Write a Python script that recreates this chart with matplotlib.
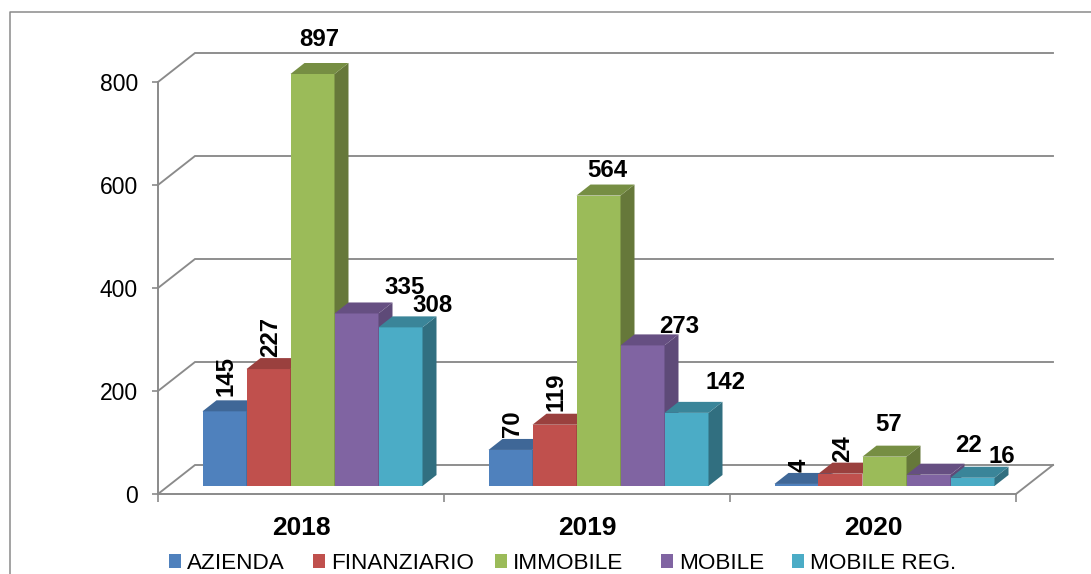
import matplotlib
matplotlib.use("Agg")
import matplotlib.pyplot as plt
from matplotlib.lines import Line2D
from matplotlib.patches import Polygon

plt.rcParams['font.family'] = ['Liberation Sans', 'DejaVu Sans']

# Datos
anios = ['2018', '2019', '2020']
series = ['AZIENDA', 'FINANZIARIO', 'IMMOBILE', 'MOBILE', 'MOBILE REG.']
azienda = [145, 70, 4]
finanziario = [227, 119, 24]
immobile = [897, 564, 57]
mobile = [335, 273, 22]
mobile_reg = [308, 142, 16]
valori = [azienda, finanziario, immobile, mobile, mobile_reg]
y_ticks = [0, 200, 400, 600, 800]

# Colores: frente, lado, arriba
frente = ['#4F81BD', '#C0504D', '#9BBB59', '#8064A2', '#4BACC6']
lado = ['#3A5F8B', '#8E3B39', '#66783A', '#5E4A78', '#316F80']
arriba = ['#3F6797', '#9A403E', '#768E43', '#664F82', '#3A8599']
GRIS = '#8A8A8A'

W, H = 1091, 574
fig = plt.figure(figsize=(W / 100, H / 100), dpi=100)
ax = fig.add_axes([158 / W, 1 - 494 / H, 858 / W, 412 / H])
ax.set_xlim(-0.5, 2.5)
ax.set_ylim(0, 800)

# Conversion pixeles -> unidades de datos
px_x = 3 / 858
px_y = 800 / 412

#===========================================================================================
# Pared del fondo, piso y ejes
#===========================================================================================
fondo_x = 37 * px_x
fondo_y = 29 * px_y
for v in y_ticks:
    ax.plot([-0.5, -0.5 + fondo_x, 2.5 + fondo_x], [v, v + fondo_y, v + fondo_y],
            color=GRIS, lw=1.35, clip_on=False, zorder=1, solid_joinstyle='miter')
ax.plot([2.5, 2.5 + fondo_x], [0, fondo_y], color=GRIS, lw=1.35, clip_on=False, zorder=1)

for s in ['top', 'right']:
    ax.spines[s].set_visible(False)
for s in ['left', 'bottom']:
    ax.spines[s].set_color(GRIS)
    ax.spines[s].set_linewidth(1.4)

ax.set_yticks(y_ticks)
ax.set_xticks(range(3))
ax.set_xticklabels(anios, fontsize=19, fontweight='bold')
ax.set_xticks([-0.5, 0.5, 1.5, 2.5], minor=True)
ax.tick_params(axis='y', length=4.5, width=1.2, color=GRIS, labelsize=16.5, pad=10)
ax.tick_params(axis='x', which='major', length=0, pad=16)
ax.tick_params(axis='x', which='minor', length=6, width=1.2, color=GRIS)

#===========================================================================================
# Barras en falso 3D
#===========================================================================================
ancho = 44 * px_x
base = 8 * px_y
desp_centro = 11.5 * px_x
prof_x = 14 * px_x
prof_y = 11 * px_y

# Etiquetas: desplazamiento en pixeles desde el centro de la cara superior
etiqueta_dx = [[1, 2, 3], [2, 2, 2], [7, 9, 4], [48, 37, 40], [32, 39, 29]]
etiqueta_dy = [[35, 26, 19], [32, 33, 25], [34, 25, 32], [26, 19, 29], [22, 30, 21]]
etiqueta_rot = [[90, 90, 90], [90, 90, 90], [0, 0, 0], [0, 0, 0], [0, 0, 0]]

barras = []
for j, vals in enumerate(valori):
    for i, v in enumerate(vals):
        x0 = i + desp_centro + (j - 2.5) * ancho
        x1 = x0 + ancho
        # la barra de 897 se corta en el maximo del eje
        alto = min(v, y_ticks[-1])
        y1 = base + alto
        b = ax.bar(x0, alto, width=ancho, bottom=base, align='edge', color=frente[j],
                   edgecolor='none', clip_on=False, zorder=3 + j)
        ax.add_patch(Polygon([(x1, base), (x1 + prof_x, base + prof_y),
                              (x1 + prof_x, y1 + prof_y), (x1, y1)],
                             facecolor=lado[j], edgecolor='none', clip_on=False, zorder=3 + j))
        ax.add_patch(Polygon([(x0, y1), (x0 + prof_x, y1 + prof_y),
                              (x1 + prof_x, y1 + prof_y), (x1, y1)],
                             facecolor=arriba[j], edgecolor='none', clip_on=False, zorder=3 + j))
        ax.annotate(str(v), xy=(x0 + ancho / 2, y1),
                    xytext=(etiqueta_dx[j][i], etiqueta_dy[j][i]), textcoords='offset pixels',
                    ha='center', va='center', rotation=etiqueta_rot[j][i],
                    fontsize=17.3, fontweight='bold', color='black', zorder=20,
                    annotation_clip=False)
    barras.append(b)

#===========================================================================================
# Leyenda (una por serie, el espaciado no es uniforme) y marco exterior
#===========================================================================================
leyenda_x = [169, 313, 495, 661, 792]
for b, nombre, lx in zip(barras, series, leyenda_x):
    fig.legend([b], [nombre], loc='center left', bbox_to_anchor=(lx / W, 1 - 563.5 / H),
               frameon=False, fontsize=16.2, handlelength=0.55, handleheight=0.55,
               handletextpad=0.25, borderpad=0, borderaxespad=0)

fig.add_artist(Line2D([9.5 / W, 9.5 / W, 1], [0, 1 - 11.5 / H, 1 - 11.5 / H],
                      color=GRIS, lw=1.1, transform=fig.transFigure))

fig.savefig('out.png', dpi=100)
